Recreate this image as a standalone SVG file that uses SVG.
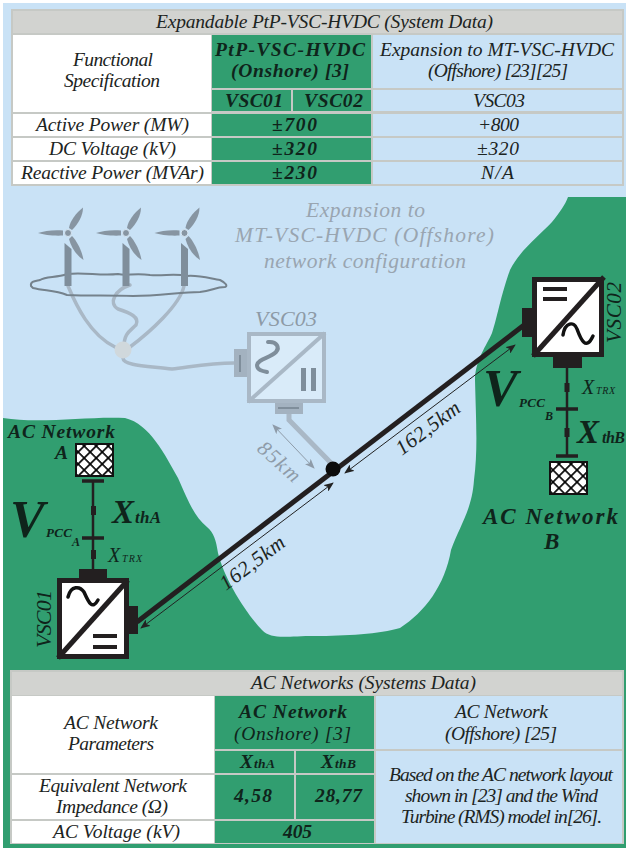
<svg xmlns="http://www.w3.org/2000/svg" width="626" height="848" viewBox="0 0 626 848">
<style>
text{font-family:"Liberation Serif","Times New Roman",serif;font-style:italic;font-size:19.5px;fill:#1c2422}
.b{font-weight:bold;fill:#0f241b}
.g{fill:#0f241b}
.lt{fill:#99a5b0;font-size:21.5px}
.grid{fill:#c6c9c5}
.hd{fill:#d2d3d0}
.w{fill:#fff}
.gr{fill:#319e70}
.bl{fill:#c9e2f6}
.dk{fill:#231f20}
.ln{stroke:#231f20;fill:none}
.lg{stroke:#a9b8c6;fill:none}
.blade{fill:#8795a2}
.tower{fill:#7f8e9b}
.dim{stroke:#222;stroke-width:1;fill:none;marker-start:url(#ah);marker-end:url(#ah)}
.dimg{stroke:#8e9ba8;stroke-width:1;fill:none;marker-start:url(#ahg);marker-end:url(#ahg)}
</style>
<defs>
<marker id="ah" viewBox="0 0 10 8" refX="9" refY="4" markerWidth="10" markerHeight="8" markerUnits="userSpaceOnUse" orient="auto-start-reverse"><path d="M0,0 L10,4 L0,8 L2.5,4Z" fill="#222"/></marker>
<marker id="ahg" viewBox="0 0 10 8" refX="9" refY="4" markerWidth="10" markerHeight="8" markerUnits="userSpaceOnUse" orient="auto-start-reverse"><path d="M0,0 L10,4 L0,8 L2.5,4Z" fill="#8e9ba8"/></marker>
<pattern id="hatch" width="8.5" height="8.5" patternUnits="userSpaceOnUse" patternTransform="rotate(45)"><rect width="8.5" height="8.5" fill="#fff"/><path d="M0,0H8.5M0,0V8.5" stroke="#000" stroke-width="3.4"/></pattern>
<g id="turbine">
<path class="blade" d="M-5,-2.500 C-14,-3.500 -24,-2 -30,0 C-24,2 -14,3 -5,2.500Z"/>
<path class="blade" d="M1,-5 C2,-12 8,-20 15,-25.500 C15,-17 10,-9 4,-3Z"/>
<path class="blade" d="M4,3 C9,8 14,18 15.500,27 C8,22 3,14 1,6Z"/>
<circle r="3.500" fill="#8795a2" stroke="#d6e6f3" stroke-width="1"/>
<path class="tower" d="M-3.500,10 L3.500,16 V53 H-3.500Z"/>
</g>
</defs>

<rect width="626" height="848" fill="#fff"/>
<rect x="3" y="3" width="623" height="845" class="bl"/>

<g id="land">
<path class="gr" d="M3,418 C40,424 90,416 125,418 C150,424 165,455 178,478 C188,500 193,515 207,527 C214,533 216,540 218,553 C224,578 245,612 262,630 C272,640 285,636 315,636 C345,636 380,634 400,628 C425,612 445,585 451,550 C460,525 472,510 474,480 C478,450 476,420 475,380 C475,360 487,345 492,333 C498,315 500,298 510,270 C520,250 540,235 552,222 C560,212 565,205 568,197 L626,197 L626,848 L3,848Z"/>
</g>

<g id="table-system">
<rect class="grid" x="11" y="9" width="613" height="177"/>
<rect class="hd" x="13" y="11" width="609" height="22"/>
<rect class="w" x="13" y="35" width="198" height="77"/>
<rect class="gr" x="212" y="35" width="159" height="53"/>
<rect class="bl" x="373" y="35" width="249" height="53"/>
<rect class="gr" x="212" y="90" width="79" height="21"/>
<rect class="gr" x="293" y="90" width="78" height="21"/>
<rect class="bl" x="373" y="90" width="249" height="21"/>
<rect class="w" x="13" y="114" width="198" height="22"/>
<rect class="gr" x="212" y="114" width="159" height="22"/>
<rect class="bl" x="373" y="114" width="249" height="22"/>
<rect class="w" x="13" y="138" width="198" height="22"/>
<rect class="gr" x="212" y="138" width="159" height="22"/>
<rect class="bl" x="373" y="138" width="249" height="22"/>
<rect class="w" x="13" y="162" width="198" height="22"/>
<rect class="gr" x="212" y="162" width="159" height="22"/>
<rect class="bl" x="373" y="162" width="249" height="22"/>
<text x="156" y="28" textLength="337">Expandable PtP-VSC-HVDC (System Data)</text>
<text x="73" y="66" textLength="80">Functional</text>
<text x="64" y="87" textLength="96">Specification</text>
<text class="b" x="215" y="56" textLength="150">PtP-VSC-HVDC</text>
<text class="b" x="231" y="77" textLength="118">(Onshore) [3]</text>
<text x="380" y="56" textLength="234">Expansion to MT-VSC-HVDC</text>
<text x="428" y="77" textLength="140">(Offshore) [23][25]</text>
<text class="b" x="225" y="107" textLength="58">VSC01</text>
<text class="b" x="304" y="107" textLength="59">VSC02</text>
<text x="473" y="107" textLength="52">VSC03</text>
<text x="36" y="131" textLength="153">Active Power (MW)</text>
<text class="b" x="272" y="131" textLength="45">±700</text>
<text x="478" y="131" textLength="41">+800</text>
<text x="49" y="155" textLength="127">DC Voltage (kV)</text>
<text class="b" x="272" y="155" textLength="45">±320</text>
<text x="477" y="155" textLength="42">±320</text>
<text x="21" y="179" textLength="183">Reactive Power (MVAr)</text>
<text class="b" x="272" y="179" textLength="45">±230</text>
<text x="481" y="179" textLength="33">N/A</text>
</g>

<g id="connectors">
<g id="offshore-wires" stroke-linecap="round">
<path class="lg" stroke-width="3.5" d="M68,286 C76,305 90,335 115,347"/>
<path class="lg" stroke-width="3.5" d="M130,285 C115,290 108,303 118,309 C130,313 140,317 136,325 C130,331 124,333 124,347"/>
<path class="lg" stroke-width="3.5" d="M184,286 C180,305 150,332 130,347"/>
<path class="lg" stroke-width="3.5" d="M123,358 C123,366 150,366 172,369 C190,367 210,363 234,363"/>
<path class="lg" stroke-width="5" d="M289,413 V420 L331,463"/>
</g>
<path class="ln" stroke-width="5" d="M137,622 L528,322"/>
<circle id="junction" cx="333" cy="469" r="7.5" fill="#0c0c0c"/>
<path class="ln" stroke-width="2.5" d="M93,480 V569"/>
<path class="ln" stroke-width="2.5" d="M567,368 V456"/>
<path class="dim" d="M141,628 L333,483"/>
<path class="dim" d="M345,473 L515,345"/>
<path class="dimg" d="M273,425 L314,468"/>
<text transform="translate(226,591) rotate(-37)" textLength="76" style="font-size:21px">162,5km</text>
<text transform="translate(402,456) rotate(-37)" textLength="75" style="font-size:21px">162,5km</text>
<text transform="translate(256,450) rotate(42)" textLength="50" style="font-size:21px;fill:#8e9ba8">85km</text>
</g>

<g id="wind-farm">
<path d="M31,286 C30,281 36,281 40,280 C46,276 56,278 67,274 C85,272 100,276 118,274 C126,276 135,273 150,275 C165,276 175,273 187,276 C200,275 212,279 220,280 C226,283 228,286 225,287 C215,287 212,291 200,292 C180,292 160,296 133,296 C110,295 90,296 67,295 C55,290 45,291 33,288Z" fill="none" stroke="#75828c" stroke-width="2"/>
<use href="#turbine" x="68" y="233"/>
<use href="#turbine" x="126" y="233"/>
<use href="#turbine" x="184.5" y="233"/>
<circle cx="123" cy="350" r="8.5" fill="#d0d8dc"/>
<text class="lt" x="306" y="217" textLength="119">Expansion to</text>
<text class="lt" x="235" y="242" textLength="259">MT-VSC-HVDC (Offshore)</text>
<text class="lt" x="264" y="268" textLength="202">network configuration</text>
</g>

<g id="VSC03">
<rect x="249" y="334" width="75" height="67" fill="#d9ebf9" stroke="#a9b8c6" stroke-width="4"/>
<path d="M325,333 L248,402" stroke="#a9b8c6" stroke-width="4" fill="none"/>
<rect x="234" y="349" width="13" height="28" fill="#a3b2c0"/>
<rect x="275" y="403" width="28" height="11" fill="#a3b2c0"/>
<path d="M240,355 V372 M278,408 H299" stroke="#7f8e9b" stroke-width="2" fill="none"/>
<path d="M268,342 C277,341 280,348 276,352 C270,358 258,359 257,365 C257,370 262,371 267,372" stroke="#7f8e9b" stroke-width="4" fill="none" stroke-linecap="round"/>
<rect x="301" y="368" width="5" height="23" fill="#7f8e9b"/>
<rect x="311" y="368" width="5" height="23" fill="#7f8e9b"/>
<text x="255" y="326" textLength="62" style="font-size:22px;fill:#8d9aa6">VSC03</text>
</g>

<g id="VSC01">
<rect x="59.5" y="580.5" width="67" height="76" fill="#fff" stroke="#231f20" stroke-width="5"/>
<path d="M128,580 L58,658" stroke="#231f20" stroke-width="5" fill="none"/>
<rect class="dk" x="79" y="569" width="28" height="10"/>
<rect class="dk" x="128" y="606" width="10" height="28"/>
<path d="M68,597 C71,585 80,586 84,592 C88,601 92,611 98,600" stroke="#111" stroke-width="3.5" fill="none" stroke-linecap="round"/>
<rect class="dk" x="93" y="634" width="24" height="4"/>
<rect class="dk" x="93" y="645" width="24" height="4"/>
<text class="g" transform="translate(51,648) rotate(-90)" textLength="58" style="font-size:22px">VSC01</text>
</g>

<g id="VSC02">
<rect x="534.5" y="279.5" width="67" height="75" fill="#fff" stroke="#231f20" stroke-width="5"/>
<path d="M604,277 L533,356" stroke="#231f20" stroke-width="5" fill="none"/>
<rect class="dk" x="522" y="308" width="10" height="29"/>
<rect class="dk" x="553" y="356" width="29" height="12"/>
<path d="M563,335 C565,322 574,321 577,329 C581,340 586,351 593,336" stroke="#111" stroke-width="3.5" fill="none" stroke-linecap="round"/>
<rect class="dk" x="543" y="287" width="24" height="4"/>
<rect class="dk" x="543" y="297" width="24" height="4"/>
<text class="g" transform="translate(621,343) rotate(-90)" textLength="61" style="font-size:21px">VSC02</text>
</g>

<g id="ac-network-a">
<rect x="76" y="444" width="37" height="32" fill="url(#hatch)" stroke="#111" stroke-width="2"/>
<path class="ln" stroke-width="3.5" d="M82,481 H104 M82,538 H104"/>
<rect class="dk" x="91" y="506" width="5" height="9"/>
<rect class="dk" x="91" y="550" width="5" height="9"/>
<text class="b" x="8" y="438" textLength="107">AC Network</text>
<text class="b" x="55" y="459" textLength="11">A</text>
<text class="b" x="10" y="537" textLength="35" style="font-size:52px">V</text>
<text class="b" x="46" y="537" textLength="26" style="font-size:13px">PCC</text>
<text class="b" x="72" y="546" textLength="8" style="font-size:12px">A</text>
<text class="b" x="112" y="523" textLength="22" style="font-size:33px">X</text>
<text class="b" x="135" y="523" textLength="26" style="font-size:17px">thA</text>
<text class="g" x="108" y="562" textLength="13" style="font-size:20px">X</text>
<text class="g" x="122" y="562" textLength="20" style="font-size:10px">TRX</text>
</g>

<g id="ac-network-b">
<rect x="550" y="462" width="37" height="32" fill="url(#hatch)" stroke="#111" stroke-width="2"/>
<path class="ln" stroke-width="3.5" d="M556,409 H578 M556,456 H578"/>
<rect class="dk" x="564.500" y="383" width="5" height="9"/>
<rect class="dk" x="564.500" y="428" width="5" height="9"/>
<text class="b" x="483" y="524" textLength="135" style="font-size:23px">AC Network</text>
<text class="b" x="544" y="549" textLength="14" style="font-size:23px">B</text>
<text class="b" x="483" y="406" textLength="33" style="font-size:52px">V</text>
<text class="b" x="519" y="407" textLength="26" style="font-size:13px">PCC</text>
<text class="b" x="545" y="420" textLength="10" style="font-size:12px">B</text>
<text class="b" x="577" y="443" textLength="23" style="font-size:33px">X</text>
<text class="b" x="602" y="443" textLength="23" style="font-size:16px">thB</text>
<text class="g" x="582" y="394" textLength="12" style="font-size:20px">X</text>
<text class="g" x="596" y="394" textLength="19" style="font-size:10px">TRX</text>
</g>

<g id="table-ac">
<rect class="grid" x="10" y="670" width="614" height="174"/>
<rect class="hd" x="12" y="672" width="610" height="23"/>
<rect class="w" x="12" y="696" width="202" height="77"/>
<rect class="gr" x="215" y="696" width="159" height="53"/>
<rect class="bl" x="376" y="696" width="246" height="53"/>
<rect class="gr" x="215" y="751" width="79" height="22"/>
<rect class="gr" x="296" y="751" width="78" height="22"/>
<rect class="bl" x="376" y="751" width="246" height="92"/>
<rect class="w" x="12" y="775" width="202" height="44"/>
<rect class="gr" x="215" y="775" width="79" height="44"/>
<rect class="gr" x="296" y="775" width="78" height="44"/>
<rect class="w" x="12" y="821" width="202" height="22"/>
<rect class="gr" x="215" y="821" width="159" height="22"/>
<text x="251" y="689" textLength="225">AC Networks (Systems Data)</text>
<text x="64" y="729" textLength="94">AC Network</text>
<text x="68" y="750" textLength="86">Parameters</text>
<text class="b" x="239" y="718" textLength="108">AC Network</text>
<text class="g" x="234" y="740" textLength="117">(Onshore) [3]</text>
<text x="455" y="718" textLength="93">AC Network</text>
<text x="445" y="740" textLength="112">(Offshore) [25]</text>
<text class="b" x="240" y="768" textLength="14">X</text>
<text class="b" x="254" y="768" textLength="21" style="font-size:13.5px">thA</text>
<text class="b" x="321" y="768" textLength="14">X</text>
<text class="b" x="335" y="768" textLength="21" style="font-size:13.5px">thB</text>
<text x="39" y="792" textLength="148">Equivalent Network</text>
<text x="56" y="813" textLength="112">Impedance (Ω)</text>
<text x="53" y="838" textLength="127">AC Voltage (kV)</text>
<text class="b" x="234" y="802" textLength="38">4,58</text>
<text class="b" x="315" y="802" textLength="47">28,77</text>
<text class="b" x="283" y="838" textLength="29">405</text>
<text x="389" y="781" textLength="224">Based on the AC network layout</text>
<text x="405" y="802" textLength="193">shown in [23] and the Wind</text>
<text x="401" y="823" textLength="201">Turbine (RMS) model in[26].</text>
</g>
</svg>
